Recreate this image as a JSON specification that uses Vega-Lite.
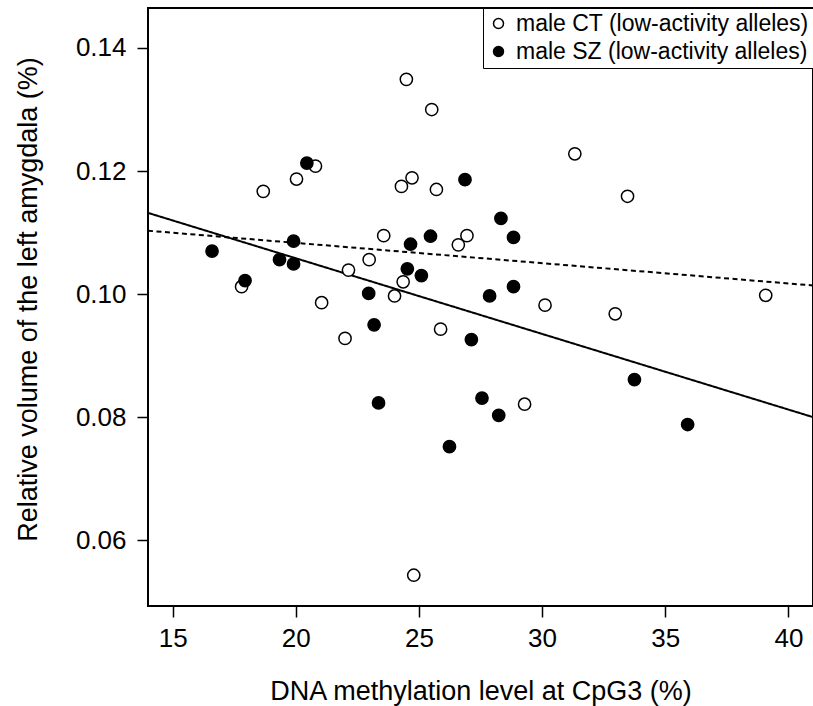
{
  "$schema": "https://vega.github.io/schema/vega-lite/v6.json",
  "width": 665,
  "height": 598,
  "autosize": {"type": "none"},
  "padding": {"left": 148, "top": 8, "right": 0, "bottom": 100},
  "background": "white",
  "config": {
    "view": {"stroke": "black", "strokeWidth": 2},
    "font": "Liberation Sans",
    "axis": {
      "domain": false,
      "grid": false,
      "tickColor": "black",
      "tickWidth": 1.5,
      "tickSize": 11,
      "labelColor": "black",
      "titleColor": "black",
      "labelFont": "Liberation Sans",
      "titleFont": "Liberation Sans",
      "titleFontWeight": "normal",
      "labelFontSize": 26,
      "titleFontSize": 27
    }
  },
  "datasets": {
    "points": [
      {"x": 24.49, "y": 0.1349, "group": "male CT (low-activity alleles)"},
      {"x": 25.52, "y": 0.1300, "group": "male CT (low-activity alleles)"},
      {"x": 20.80, "y": 0.1208, "group": "male CT (low-activity alleles)"},
      {"x": 20.03, "y": 0.1187, "group": "male CT (low-activity alleles)"},
      {"x": 18.68, "y": 0.1167, "group": "male CT (low-activity alleles)"},
      {"x": 24.72, "y": 0.1189, "group": "male CT (low-activity alleles)"},
      {"x": 24.29, "y": 0.1175, "group": "male CT (low-activity alleles)"},
      {"x": 25.71, "y": 0.1170, "group": "male CT (low-activity alleles)"},
      {"x": 23.57, "y": 0.1095, "group": "male CT (low-activity alleles)"},
      {"x": 26.95, "y": 0.1095, "group": "male CT (low-activity alleles)"},
      {"x": 26.60, "y": 0.1080, "group": "male CT (low-activity alleles)"},
      {"x": 22.98, "y": 0.1056, "group": "male CT (low-activity alleles)"},
      {"x": 22.14, "y": 0.1039, "group": "male CT (low-activity alleles)"},
      {"x": 24.36, "y": 0.1020, "group": "male CT (low-activity alleles)"},
      {"x": 17.80, "y": 0.1012, "group": "male CT (low-activity alleles)"},
      {"x": 24.01, "y": 0.0997, "group": "male CT (low-activity alleles)"},
      {"x": 21.05, "y": 0.0986, "group": "male CT (low-activity alleles)"},
      {"x": 31.33, "y": 0.1228, "group": "male CT (low-activity alleles)"},
      {"x": 33.47, "y": 0.1159, "group": "male CT (low-activity alleles)"},
      {"x": 30.12, "y": 0.0982, "group": "male CT (low-activity alleles)"},
      {"x": 32.97, "y": 0.0968, "group": "male CT (low-activity alleles)"},
      {"x": 39.08, "y": 0.0998, "group": "male CT (low-activity alleles)"},
      {"x": 22.00, "y": 0.0928, "group": "male CT (low-activity alleles)"},
      {"x": 25.88, "y": 0.0943, "group": "male CT (low-activity alleles)"},
      {"x": 24.79, "y": 0.0543, "group": "male CT (low-activity alleles)"},
      {"x": 29.29, "y": 0.0821, "group": "male CT (low-activity alleles)"},
      {"x": 20.45, "y": 0.1213, "group": "male SZ (low-activity alleles)"},
      {"x": 26.87, "y": 0.1186, "group": "male SZ (low-activity alleles)"},
      {"x": 16.60, "y": 0.1070, "group": "male SZ (low-activity alleles)"},
      {"x": 19.91, "y": 0.1086, "group": "male SZ (low-activity alleles)"},
      {"x": 19.34, "y": 0.1056, "group": "male SZ (low-activity alleles)"},
      {"x": 19.91, "y": 0.1049, "group": "male SZ (low-activity alleles)"},
      {"x": 25.47, "y": 0.1094, "group": "male SZ (low-activity alleles)"},
      {"x": 24.66, "y": 0.1081, "group": "male SZ (low-activity alleles)"},
      {"x": 24.53, "y": 0.1041, "group": "male SZ (low-activity alleles)"},
      {"x": 25.10, "y": 0.1030, "group": "male SZ (low-activity alleles)"},
      {"x": 17.94, "y": 0.1022, "group": "male SZ (low-activity alleles)"},
      {"x": 22.96, "y": 0.1001, "group": "male SZ (low-activity alleles)"},
      {"x": 28.33, "y": 0.1123, "group": "male SZ (low-activity alleles)"},
      {"x": 28.84, "y": 0.1092, "group": "male SZ (low-activity alleles)"},
      {"x": 27.87, "y": 0.0997, "group": "male SZ (low-activity alleles)"},
      {"x": 28.84, "y": 0.1012, "group": "male SZ (low-activity alleles)"},
      {"x": 23.18, "y": 0.0950, "group": "male SZ (low-activity alleles)"},
      {"x": 27.13, "y": 0.0926, "group": "male SZ (low-activity alleles)"},
      {"x": 23.36, "y": 0.0823, "group": "male SZ (low-activity alleles)"},
      {"x": 27.56, "y": 0.0831, "group": "male SZ (low-activity alleles)"},
      {"x": 28.24, "y": 0.0803, "group": "male SZ (low-activity alleles)"},
      {"x": 33.75, "y": 0.0861, "group": "male SZ (low-activity alleles)"},
      {"x": 35.91, "y": 0.0788, "group": "male SZ (low-activity alleles)"},
      {"x": 26.24, "y": 0.0752, "group": "male SZ (low-activity alleles)"}
    ],
    "fits": [
      {"x": 14, "y": 0.1103, "fit": "CT"},
      {"x": 41, "y": 0.1014, "fit": "CT"},
      {"x": 14, "y": 0.1132, "fit": "SZ"},
      {"x": 41, "y": 0.0800, "fit": "SZ"}
    ]
  },
  "layer": [
    {
      "data": {"name": "fits"},
      "mark": {"type": "line", "color": "black", "strokeWidth": 2, "clip": true},
      "encoding": {
        "x": {"field": "x", "type": "quantitative", "scale": {"domain": [14, 41], "nice": false, "zero": false},
          "axis": {"values": [15, 20, 25, 30, 35, 40], "format": "d", "title": "DNA methylation level at CpG3 (%)", "labelPadding": 8, "titlePadding": 27}},
        "y": {"field": "y", "type": "quantitative", "scale": {"domain": [0.0493, 0.1465], "nice": false, "zero": false},
          "axis": {"values": [0.06, 0.08, 0.1, 0.12, 0.14], "format": ".2f", "title": "Relative volume of the left amygdala (%)", "labelPadding": 11, "titlePadding": 33, "titleY": 291}},
        "detail": {"field": "fit", "type": "nominal"},
        "strokeDash": {"field": "fit", "type": "nominal", "scale": {"domain": ["CT", "SZ"], "range": [[5, 3.5], [1, 0]]}, "legend": null}
      }
    },
    {
      "data": {"name": "points"},
      "mark": {"type": "point", "shape": "circle", "filled": true, "stroke": "black", "strokeWidth": 1.5, "size": 150, "opacity": 1},
      "encoding": {
        "x": {"field": "x", "type": "quantitative"},
        "y": {"field": "y", "type": "quantitative"},
        "fill": {"field": "group", "type": "nominal",
          "scale": {"domain": ["male CT (low-activity alleles)", "male SZ (low-activity alleles)"], "range": ["white", "black"]},
          "legend": {"title": null, "orient": "top-right", "offset": 0, "labelFontSize": 23, "labelColor": "black", "labelLimit": 400,
            "symbolType": "circle", "symbolSize": 100, "symbolStrokeColor": "black", "symbolStrokeWidth": 1.5,
            "strokeColor": "black", "fillColor": "white", "padding": 4, "rowPadding": 4, "labelOffset": 6}}
      }
    }
  ]
}
